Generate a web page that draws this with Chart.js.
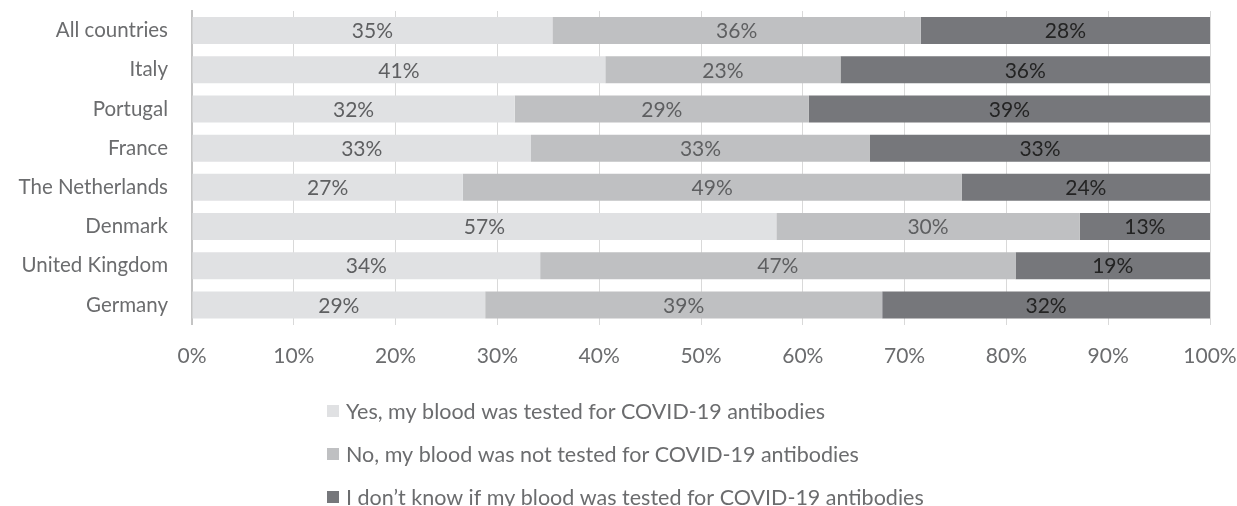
<!DOCTYPE html>
<html>
<head>
<meta charset="utf-8">
<script src="https://cdn.jsdelivr.net/npm/chart.js@4.4.0/dist/chart.umd.min.js"></script>
<style>
    html, body { margin: 0; padding: 0; background: #fff; }
</style>
</head>
<body>
<canvas id="antibodyChart" width="1237" height="506"></canvas>
<script>
const countries = ['All countries', 'Italy', 'Portugal', 'France', 'The Netherlands', 'Denmark', 'United Kingdom', 'Germany'];
const testedYes = [35.4, 40.6, 31.7, 33.3, 26.6, 57.4, 34.2, 28.8];
const testedNo = [36.2, 23.1, 28.9, 33.3, 49.0, 29.8, 46.7, 39.0];
const testedUnknown = [28.4, 36.3, 39.4, 33.4, 24.4, 12.8, 19.1, 32.2];
const xTickValues = [0, 10, 20, 30, 40, 50, 60, 70, 80, 90, 100];

const FONT = 'Lato';
const textGrey = '#6b6c6e';

// percentage labels in the middle of each segment
const barLabels = {
    id: 'barLabels',
    afterDatasetsDraw(chart) {
        const ctx = chart.ctx;
        ctx.save();
        ctx.font = '21px ' + FONT;
        ctx.textAlign = 'center';
        ctx.textBaseline = 'middle';
        chart.data.datasets.forEach((ds, i) => {
            chart.getDatasetMeta(i).data.forEach((bar, j) => {
                ctx.fillStyle = ds.labelColor;
                ctx.fillText(Math.round(ds.data[j]) + '%', (bar.x + bar.base) / 2, bar.y + 1);
            });
        });
        ctx.restore();
    }
};

// legend stacked as a list under the axis
const listLegend = {
    id: 'listLegend',
    afterDraw(chart) {
        const ctx = chart.ctx;
        ctx.save();
        ctx.font = '21.5px ' + FONT;
        ctx.textBaseline = 'middle';
        chart.data.datasets.forEach((ds, i) => {
            const y = 411 + i * 43;
            ctx.fillStyle = ds.backgroundColor;
            ctx.fillRect(327, y - 6, 12, 12);
            ctx.fillStyle = textGrey;
            ctx.fillText(ds.label, 346, y + 1);
        });
        ctx.restore();
    }
};

const data = {
    labels: countries,
    datasets: [{
            label: 'Yes, my blood was tested for COVID-19 antibodies',
            data: testedYes,
            backgroundColor: '#e0e1e3',
            labelColor: '#5e5f61',
        },
        {
            label: 'No, my blood was not tested for COVID-19 antibodies',
            data: testedNo,
            backgroundColor: '#bfc0c2',
            labelColor: '#5e5f61',
        },
        {
            label: 'I don\u2019t know if my blood was tested for COVID-19 antibodies',
            data: testedUnknown,
            backgroundColor: '#76777b',
            labelColor: '#232323',
        }
    ]
};

const config = {
    type: 'bar',
    data: data,
    plugins: [barLabels, listLegend],
    options: {
        indexAxis: 'y',
        responsive: false,
        animation: false,
        layout: { padding: { top: 11, right: 27, bottom: 0, left: 0 } },
        datasets: {
            bar: { barPercentage: 0.69, categoryPercentage: 1 }
        },
        scales: {
            x: {
                stacked: true,
                min: 0,
                max: 100,
                afterBuildTicks: scale => { scale.ticks = xTickValues.map(v => ({ value: v })); },
                afterFit: scale => {
                    scale.height = 181.5;
                    scale.paddingLeft = 0;
                    scale.paddingRight = 0;
                },
                grid: { color: '#d9d9d9', drawTicks: false },
                border: { display: false },
                ticks: {
                    padding: 19,
                    color: textGrey,
                    font: { family: FONT, size: 21 },
                    callback: v => v + '%'
                }
            },
            y: {
                stacked: true,
                afterFit: scale => {
                    scale.width = 192;
                    scale.paddingTop = 0;
                    scale.paddingBottom = 0;
                },
                grid: { display: false, drawTicks: false },
                border: { color: '#c4c4c4', width: 2 },
                ticks: {
                    padding: 24,
                    color: textGrey,
                    font: { family: FONT, size: 20.5 }
                }
            }
        },
        plugins: {
            legend: { display: false },
            tooltip: { enabled: false }
        }
    }
};

new Chart('antibodyChart', config);
</script>
</body>
</html>
